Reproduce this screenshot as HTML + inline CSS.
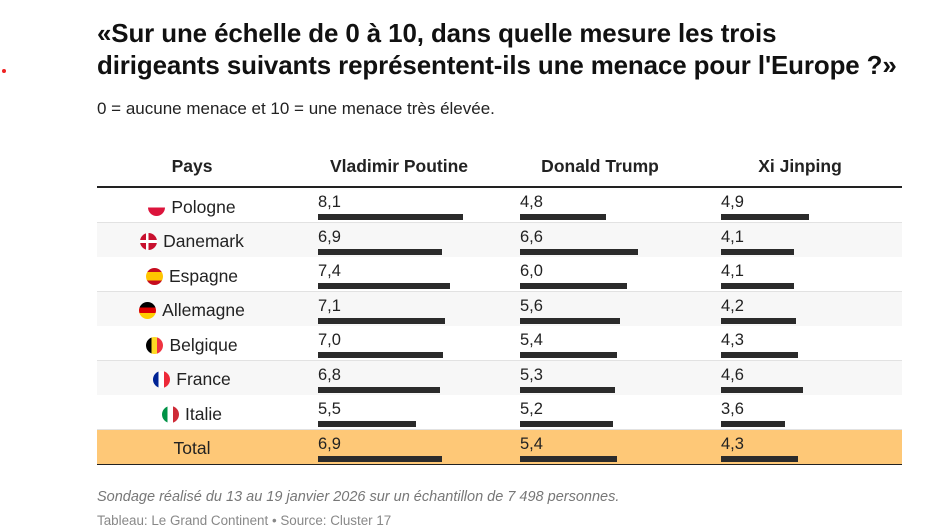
<!DOCTYPE html><html><head><meta charset="utf-8"><style>
body{margin:0;width:932px;height:527px;background:#fff;font-family:"Liberation Sans",sans-serif;color:#222;position:relative;overflow:hidden}
.a{position:absolute}
h1{position:absolute;left:97px;top:18px;margin:0;font-size:25.9px;line-height:32px;font-weight:bold;color:#111;letter-spacing:-0.1px}
.row{position:absolute;left:97px;width:805px;height:34px;border-bottom:1px solid #e2e2e2}
.c{position:absolute;top:0;left:0;width:190px;height:34px;display:flex;align-items:center;justify-content:center;font-size:17.5px;gap:6px}
.v{position:absolute;top:5px;font-size:16.5px}
.b{position:absolute;top:26px;height:6px;background:#2b2b2b}
.f{width:17px;height:17px;border-radius:50%;overflow:hidden;display:inline-block}
.th{position:absolute;top:156px;font-size:17.5px;font-weight:bold;transform:translateX(-50%)}
</style></head><body>
<div class="a" style="left:2px;top:69px;width:4px;height:4px;border-radius:50%;background:#e22"></div>
<h1>«Sur une échelle de 0 à 10, dans quelle mesure les trois<br>dirigeants suivants représentent-ils une menace pour l'Europe ?»</h1>
<div class="a" style="left:97px;top:99px;font-size:17px;color:#222">0 = aucune menace et 10 = une menace très élevée.</div>
<div class="th" style="left:192px">Pays</div>
<div class="th" style="left:399px">Vladimir Poutine</div>
<div class="th" style="left:600px">Donald Trump</div>
<div class="th" style="left:800px">Xi Jinping</div>
<div class="a" style="left:97px;top:186px;width:805px;height:2px;background:#222"></div>
<div id="t"></div>
<div class="a" style="left:97px;top:489px;font-size:14.5px;font-style:italic;color:#777">Sondage réalisé du 13 au 19 janvier 2026 sur un échantillon de 7 498 personnes.</div>
<div class="a" style="left:97px;top:513px;font-size:13.4px;color:#888">Tableau: Le Grand Continent • Source: Cluster 17</div>
<script>
var F={
Pologne:'linear-gradient(#fff 50%,#dc143c 50%)',
Danemark:'linear-gradient(90deg,transparent 35%,#fff 35%,#fff 50%,transparent 50%),linear-gradient(transparent 42%,#fff 42%,#fff 58%,transparent 58%),#c8102e',
Espagne:'linear-gradient(#c60b1e 25%,#ffc400 25%,#ffc400 75%,#c60b1e 75%)',
Allemagne:'linear-gradient(#000 33%,#dd0000 33%,#dd0000 66%,#ffce00 66%)',
Belgique:'linear-gradient(90deg,#000 33%,#fdda24 33%,#fdda24 66%,#ef3340 66%)',
France:'linear-gradient(90deg,#002395 33%,#fff 33%,#fff 66%,#ed2939 66%)',
Italie:'linear-gradient(90deg,#009246 33%,#fff 33%,#fff 66%,#ce2b37 66%)'};
var D=[['Pologne',8.1,4.8,4.9],['Danemark',6.9,6.6,4.1],['Espagne',7.4,6.0,4.1],['Allemagne',7.1,5.6,4.2],['Belgique',7.0,5.4,4.3],['France',6.8,5.3,4.6],['Italie',5.5,5.2,3.6],['Total',6.9,5.4,4.3]];
var h='',X=[221,423,624];
D.forEach(function(r,i){
var top=188+i*34.5,tot=r[0]=='Total';
var bg=tot?'#fec877':(i%2?'#f7f7f7':'#fff');
var bb=tot?'border-bottom:1px solid #222;':'';
h+='<div class="row" style="top:'+top+'px;background:'+bg+';'+bb+'"><div class="c" style="top:2px">'+(tot?'':'<span class="f" style="background:'+F[r[0]]+'"></span>')+'<span>'+r[0]+'</span></div>';
for(var k=0;k<3;k++){h+='<div class="v" style="left:'+X[k]+'px">'+r[k+1].toFixed(1).replace('.',',')+'</div><div class="b" style="left:'+X[k]+'px;width:'+(r[k+1]*17.9)+'px"></div>';}
h+='</div>';});
document.getElementById('t').innerHTML=h;
</script>
</body></html>
